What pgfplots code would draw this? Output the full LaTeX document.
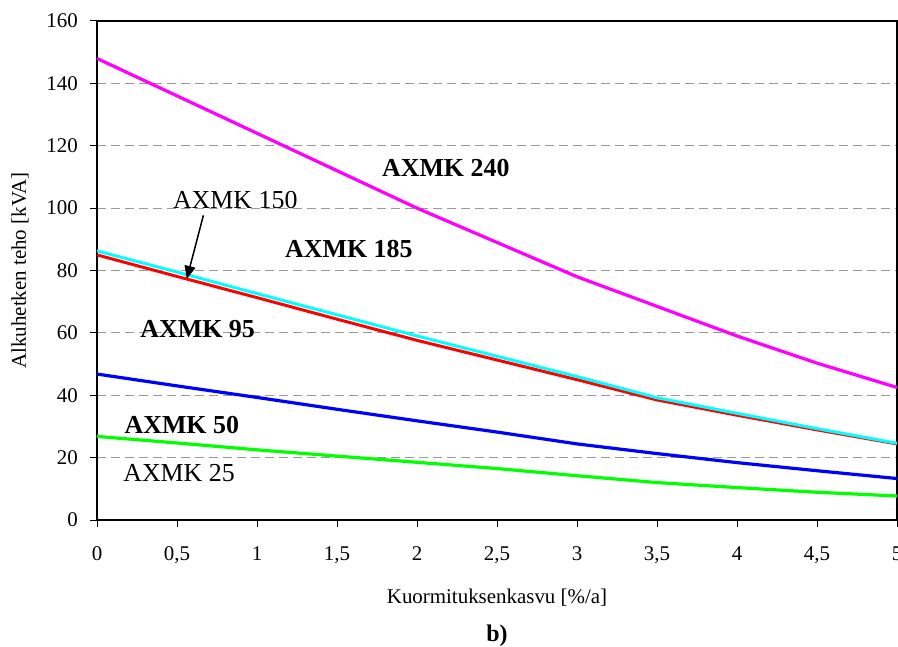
\documentclass[border=0pt]{standalone}
\usepackage{pgfplots}
\pgfplotsset{compat=1.18}
\usepackage{fontspec}
\setmainfont{Liberation Serif}
\usetikzlibrary{calc,arrows.meta}
\definecolor{cmag}{RGB}{255,0,255}
\definecolor{ccyan}{RGB}{0,255,255}
\definecolor{cred}{RGB}{255,0,0}
\definecolor{cblue}{RGB}{0,0,255}
\definecolor{cgreen}{RGB}{0,255,0}
\begin{document}
\begin{tikzpicture}
\begin{axis}[
  scale only axis, width=800bp, height=499bp,
  xmin=0, xmax=5, ymin=0, ymax=160,
  xtick={0,0.5,1,1.5,2,2.5,3,3.5,4,4.5,5},
  ytick={0,20,40,60,80,100,120,140,160},
  tick pos=left, tick align=outside, major tick length=7bp,
  tick style={black, line width=1bp},
  axis line style={line width=1.5bp},
  ymajorgrids,
  major grid style={dash pattern=on 9bp off 5bp, line width=1bp, black!40},
  /pgf/number format/use comma,
  /pgf/number format/1000 sep={},
  /pgf/number format/assume math mode=true,
  tick label style={font=\fontsize{21}{21}\selectfont},
  xticklabel style={anchor=base, inner sep=0pt, yshift=-33bp},
  yticklabel style={anchor=east, inner sep=0pt, xshift=-12bp},
  xlabel={Kuormituksenkasvu [\%/a]},
  ylabel={Alkuhetken teho [kVA]},
  every axis x label/.style={at={(rel axis cs:0.5,0)}, anchor=base, yshift=-83bp, font=\fontsize{21}{21}\selectfont},
  every axis y label/.style={at={(rel axis cs:0,0.5)}, anchor=center, rotate=90, yshift=77bp, font=\fontsize{21}{21}\selectfont},
  clip=true,
]
\addplot[cmag, line width=3.2bp] coordinates {
 (0,148) (0.5,136) (1,124) (1.5,112) (2,100) (2.5,89) (3,78) (3.5,68.5) (4,59) (4.5,50.3) (5,42.5)};
\addplot[cred, line width=3bp] coordinates {
 (0,85) (0.5,78.1) (1,71.3) (1.5,64.4) (2,57.6) (2.5,51.3) (3,45) (3.5,38.5) (4,33.6) (4.5,28.9) (5,24.4)};
\addplot[ccyan, line width=3bp] coordinates {
 (0,86.3) (0.5,79.5) (1,72.6) (1.5,65.8) (2,59) (2.5,52.5) (3,46) (3.5,39.2) (4,34.2) (4.5,29.3) (5,24.6)};
\addplot[cblue, line width=3.2bp] coordinates {
 (0,46.8) (0.5,43) (1,39.3) (1.5,35.5) (2,31.8) (2.5,28.2) (3,24.4) (3.5,21.3) (4,18.4) (4.5,15.8) (5,13.3)};
\addplot[cgreen, line width=3.2bp] coordinates {
 (0,26.8) (0.5,24.7) (1,22.5) (1.5,20.5) (2,18.5) (2.5,16.5) (3,14.2) (3.5,12) (4,10.4) (4.5,8.9) (5,7.7)};
\node[font=\fontsize{26}{26}\selectfont\bfseries] at (axis cs:2.18,112.8) {AXMK 240};
\node[font=\fontsize{26}{26}\selectfont\bfseries] at (axis cs:1.574,87) {AXMK 185};
\node[font=\fontsize{26}{26}\selectfont] at (axis cs:0.864,102.5) {AXMK 150};
\node[font=\fontsize{26}{26}\selectfont\bfseries] at (axis cs:0.629,61.3) {AXMK 95};
\node[font=\fontsize{26}{26}\selectfont\bfseries] at (axis cs:0.53,30.6) {AXMK 50};
\node[font=\fontsize{26}{26}\selectfont] at (axis cs:0.513,15.2) {AXMK 25};
\draw[line width=1.5bp, -{Triangle[length=13bp,width=11bp]}] (axis cs:0.665,97.7) -- (axis cs:0.561,77.3);
\end{axis}
\node[anchor=base, font=\fontsize{24}{24}\selectfont\bfseries] at ($(current axis.south)+(0,-121bp)$) {b)};
\pgfresetboundingbox
\path[use as bounding box] ($(current axis.south west)+(-97bp,-126bp)$) rectangle ($(current axis.north east)+(1bp,21bp)$);
\end{tikzpicture}
\end{document}
